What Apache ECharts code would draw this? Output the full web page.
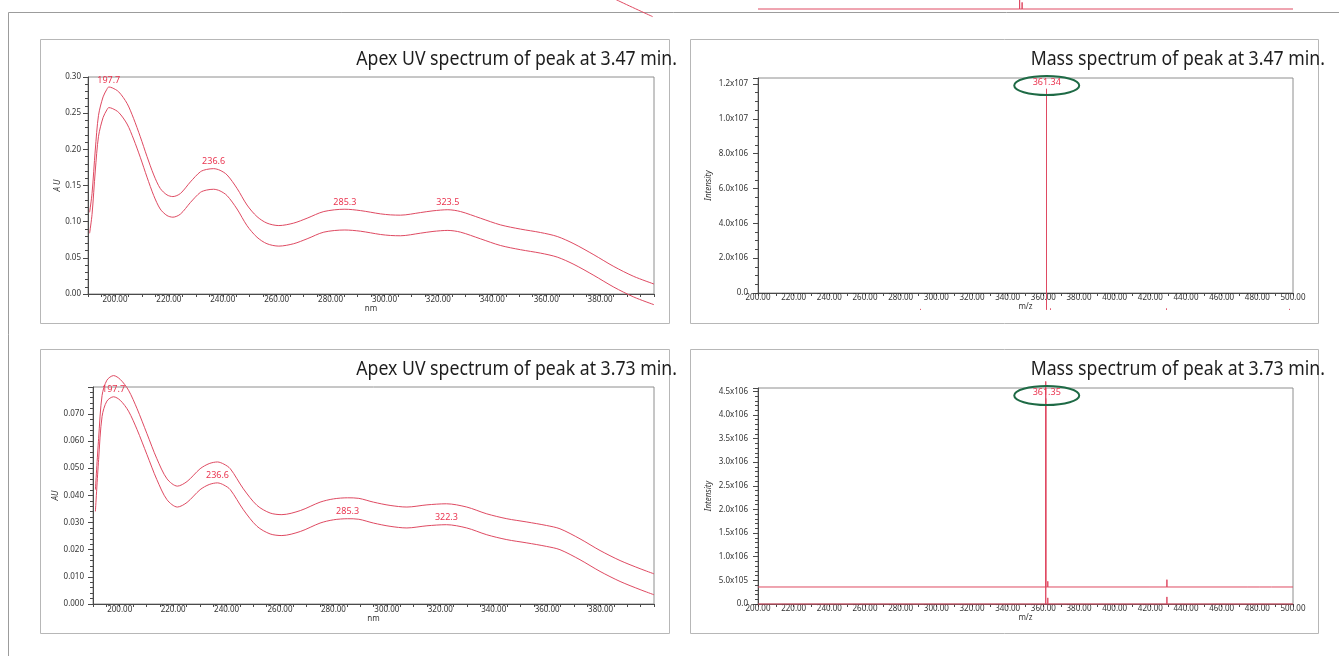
<!DOCTYPE html>
<html>
<head>
<meta charset="utf-8">
<script src="https://cdn.jsdelivr.net/npm/echarts@6/dist/echarts.min.js"></script>
<style>
  html, body { margin: 0; padding: 0; background: #fff; }
  #c { width: 1339px; height: 656px; }
</style>
</head>
<body>
<div id="c"></div>
<script>
// ---------- data ----------
// UV spectrum, peak at 3.47 min: [wavelength nm, absorbance AU]
const uvA = [[190.6,0.113],[191.5,0.139],[192.7,0.199],[193.9,0.247],[195.6,0.2725],[197.0,0.2830],[197.7,0.2862],[199.0,0.2850],[201.4,0.2795],[204.5,0.2634],[206.9,0.2428],[209.4,0.2174],[211.9,0.190],[214.4,0.1646],[216.8,0.146],[219.3,0.137],[221.5,0.1347],[224.3,0.139],[228.0,0.155],[231.7,0.169],[234.0,0.1722],[236.6,0.1733],[239.0,0.1710],[241.6,0.1646],[245.3,0.146],[249.0,0.123],[252.7,0.107],[256.4,0.098],[260.8,0.0946],[266.3,0.098],[271.3,0.1048],[277.5,0.114],[285.3,0.1172],[291.1,0.1153],[298.5,0.1108],[302.2,0.1094],[305.9,0.1090],[313.4,0.1126],[318.0,0.1150],[323.5,0.1165],[328.2,0.114],[335.6,0.1048],[343.0,0.0956],[350.5,0.0897],[357.9,0.085],[364.1,0.0795],[370.3,0.0694],[377.7,0.0542],[385.1,0.038],[392.5,0.0243],[400.0,0.0138]];
// second trace of the same spectrum, drawn beneath it
const uvAShadow = [[190.6,0.084],[191.5,0.110],[192.7,0.170],[193.9,0.218],[195.6,0.244],[197.0,0.2545],[197.7,0.2577],[199.0,0.2565],[201.4,0.251],[204.5,0.235],[206.9,0.2143],[209.4,0.189],[211.9,0.1615],[214.4,0.136],[216.8,0.1175],[219.3,0.1085],[221.5,0.1062],[224.3,0.1105],[228.0,0.1265],[231.7,0.1405],[234.0,0.1437],[236.6,0.1448],[239.0,0.1425],[241.6,0.136],[245.3,0.1175],[249.0,0.0945],[252.7,0.0785],[256.4,0.0695],[260.8,0.0662],[266.3,0.0695],[271.3,0.0763],[277.5,0.0855],[285.3,0.0885],[291.1,0.0868],[298.5,0.0823],[302.2,0.0809],[305.9,0.0805],[313.4,0.0841],[318.0,0.0865],[323.5,0.0879],[328.2,0.0855],[335.6,0.0763],[343.0,0.0671],[350.5,0.0612],[357.9,0.0565],[364.1,0.051],[370.3,0.0409],[377.7,0.0257],[385.1,0.0095],[392.5,-0.0042],[400.0,-0.0148]];
const uvAPeakNm = [197.7, 236.6, 285.3, 323.5];

// UV spectrum, peak at 3.73 min
const uvB = [[190.9,0.0341],[192.1,0.0532],[193.4,0.0691],[195.2,0.0747],[197.7,0.0763],[200.2,0.0750],[203.3,0.0710],[206.5,0.0642],[210.2,0.0550],[213.9,0.0458],[217.7,0.0384],[221.6,0.0357],[225.2,0.0374],[230.1,0.0421],[233.5,0.0440],[236.6,0.0446],[239.0,0.0438],[241.4,0.0421],[246.3,0.0347],[251.4,0.0286],[256.3,0.0258],[260.7,0.0252],[267.6,0.0267],[275.0,0.0298],[280.0,0.0310],[285.3,0.0314],[289.5,0.0312],[295.0,0.0298],[301.2,0.0286],[307.5,0.0280],[315.0,0.0288],[322.3,0.0292],[329.9,0.0280],[337.4,0.0255],[344.9,0.0237],[352.4,0.0225],[359.8,0.0212],[364.8,0.0200],[372.3,0.0163],[379.8,0.0120],[387.3,0.0083],[394.8,0.0053],[400.0,0.0034]];
const uvBShadow = [[190.9,0.0421],[192.1,0.0609],[193.4,0.0768],[195.2,0.0824],[197.7,0.0841],[200.2,0.0827],[203.3,0.0787],[206.5,0.0719],[210.2,0.0627],[213.9,0.0535],[217.7,0.0461],[221.6,0.0434],[225.2,0.0451],[230.1,0.0498],[233.5,0.0517],[236.6,0.0523],[239.0,0.0515],[241.4,0.0498],[246.3,0.0424],[251.4,0.0363],[256.3,0.0335],[260.7,0.0329],[267.6,0.0344],[275.0,0.0375],[280.0,0.0387],[285.3,0.0391],[289.5,0.0389],[295.0,0.0375],[301.2,0.0363],[307.5,0.0357],[315.0,0.0365],[322.3,0.0369],[329.9,0.0357],[337.4,0.0332],[344.9,0.0314],[352.4,0.0302],[359.8,0.0289],[364.8,0.0277],[372.3,0.0240],[379.8,0.0197],[387.3,0.0160],[394.8,0.0130],[400.0,0.0111]];
const uvBPeakNm = [197.7, 236.6, 285.3, 322.3];

// mass spectrum, peak at 3.47 min: [m/z, intensity]
const msAPeaks = [[361.34, 11730000]];
const msAShadowBase = -970000;
const msAShadowPeaks = [[291.0, 60000],[361.34, 11730000],[363.8, 90000],[429.0, 90000],[498.0, 60000]];

// mass spectrum, peak at 3.73 min
const msBPeaks = [[361.35, 4350000],[362.5, 130000],[419.8, 15000],[429.3, 150000],[474.7, 15000],[481.4, 15000]];
const msBShadowBase = 360000;
const msBShadowPeaks = [[361.35, 4350000],[362.5, 120000],[419.8, 15000],[429.3, 155000],[474.7, 15000],[481.4, 15000],[488.0, 10000]];

// lower edge of the charts above this row
const prevMsPeaks = [[346.7, 6000000],[348.1, 380000],[414.2, 80000]];
const prevUvTail = [[372.0, 0.005],[386.0, -0.0217],[399.5, -0.0451]];

// axis ticks and labels
const uvLabelNm = [200, 220, 240, 260, 280, 300, 320, 340, 360, 380];
const uvTickNm = [];
for (let v = 190; v <= 400; v += 5) uvTickNm.push(v);
const mzLabels = [200, 220, 240, 260, 280, 300, 320, 340, 360, 380, 400, 420, 440, 460, 480, 500];
const mzTicks = [];
for (let v = 200; v <= 500; v += 10) mzTicks.push(v);

const titles = [
  'Apex UV spectrum of peak at 3.47 min.',
  'Mass spectrum of peak at 3.47 min.',
  'Apex UV spectrum of peak at 3.73 min.',
  'Mass spectrum of peak at 3.73 min.'
];

// ---------- styling ----------
const FONT = '"Noto Sans", "DejaVu Sans", sans-serif';
const RED = '#df4a62';
const LABEL_RED = '#ea3550';
const GREEN = '#1e6a45';
const AXIS = '#4a4a4a';
const BORDER = '#8e8e8e';
const FRAME = '#b7b7b7';
const TXT = '#333';

function sci(v) {
  if (v === 0) return '0.0';
  const e = Math.floor(Math.log10(Math.abs(v)) + 1e-9);
  return (v / Math.pow(10, e)).toFixed(1) + 'x10' + e;
}

// stick spectrum: a baseline with a vertical line at every peak
function stickTrace(peaks, base, lo, hi) {
  const out = [[lo, base]];
  peaks.forEach(p => { out.push([p[0], base], [p[0], base + p[1]], [p[0], base]); });
  out.push([hi, base]);
  return out;
}

function sticksOnly(xi, peaks, base) {
  return {
    type: 'custom', xAxisIndex: xi, yAxisIndex: xi, data: peaks, clip: false, z: 3,
    renderItem(params, api) {
      const a = api.coord([api.value(0), base]);
      const b = api.coord([api.value(0), base + api.value(1)]);
      const x = Math.round(a[0]) + 0.5;
      return { type: 'line', shape: { x1: x, y1: a[1], x2: x, y2: b[1] }, style: { stroke: RED, lineWidth: 1 } };
    }
  };
}

const labelText = { fontSize: 8, fontFamily: FONT, color: TXT };
const nameText = { fontSize: 8, fontFamily: FONT, color: TXT, fontStyle: 'italic' };

function uvX(gi) {
  return {
    gridIndex: gi, type: 'value', min: 190, max: 400,
    axisLine: { show: true, onZero: false, lineStyle: { color: AXIS, width: 1 } },
    axisTick: { show: true, customValues: uvTickNm, length: 3, lineStyle: { color: AXIS } },
    axisLabel: Object.assign({ customValues: uvLabelNm, formatter: v => v.toFixed(2), margin: 2 }, labelText),
    splitLine: { show: false },
    name: 'nm', nameLocation: 'middle', nameGap: 10,
    nameTextStyle: { fontSize: 8, fontFamily: FONT, color: TXT }
  };
}
function msX(gi) {
  return {
    gridIndex: gi, type: 'value', min: 200, max: 500,
    axisLine: { show: true, onZero: false, lineStyle: { color: AXIS, width: 1 } },
    axisTick: { show: true, customValues: mzTicks, length: 3, lineStyle: { color: AXIS } },
    axisLabel: Object.assign({ customValues: mzLabels, formatter: v => v.toFixed(2), margin: 1 }, labelText),
    splitLine: { show: false },
    name: 'm/z', nameLocation: 'middle', nameGap: 10,
    nameTextStyle: { fontSize: 8, fontFamily: FONT, color: TXT }
  };
}
function valueY(gi, max, interval, minorSplit, fmt, margin, name, nameGap, showMax) {
  return {
    gridIndex: gi, type: 'value', min: 0, max: max, interval: interval,
    axisLine: { show: true, onZero: false, lineStyle: { color: AXIS, width: 1 } },
    axisTick: { show: true, length: 5, lineStyle: { color: AXIS } },
    minorTick: { show: true, splitNumber: minorSplit, length: 3, lineStyle: { color: AXIS } },
    axisLabel: Object.assign({ formatter: fmt, margin: margin, padding: [0, 0, 6, 0], showMaxLabel: showMax, showMinLabel: true }, labelText),
    splitLine: { show: false },
    name: name, nameLocation: 'middle', nameGap: nameGap, nameTextStyle: nameText
  };
}
function hiddenAxis(gi, min, max) {
  return { gridIndex: gi, type: 'value', min: min, max: max, show: false };
}

function peakLabels(data, nms) {
  return {
    symbol: 'circle', symbolSize: 1, itemStyle: { color: 'rgba(0,0,0,0)' },
    label: {
      show: true, position: 'top', distance: 2, color: LABEL_RED, fontSize: 9, fontFamily: FONT,
      formatter: p => p.data.coord[0].toFixed(1)
    },
    data: nms.map(nm => ({ coord: data.find(d => d[0] === nm) }))
  };
}
function uvLine(xi, data, marks) {
  const s = {
    type: 'line', xAxisIndex: xi, yAxisIndex: xi, data: data, clip: false,
    showSymbol: false, symbol: 'none', smooth: 0.3,
    lineStyle: { color: RED, width: 1 }, z: 3
  };
  if (marks) s.markPoint = marks;
  return s;
}
function traceLine(xi, data) {
  return {
    type: 'line', xAxisIndex: xi, yAxisIndex: xi, data: data, clip: false,
    showSymbol: false, symbol: 'none', lineStyle: { color: RED, width: 1 }, z: 3
  };
}

const gridStyle = { show: true, borderColor: BORDER, borderWidth: 1, backgroundColor: 'transparent', outerBoundsMode: 'none', containLabel: false };
const gridBare = { show: false, outerBoundsMode: 'none', containLabel: false };
const grids = [
  Object.assign({ left: 88, top: 77, width: 566, height: 217 }, gridStyle),
  Object.assign({ left: 758, top: 78, width: 535, height: 215 }, gridStyle),
  Object.assign({ left: 93, top: 387, width: 561, height: 217 }, gridStyle),
  Object.assign({ left: 758, top: 388, width: 535, height: 216 }, gridStyle),
  Object.assign({ left: 758, top: -206, width: 535, height: 215 }, gridBare),
  Object.assign({ left: 88, top: -233, width: 566, height: 217 }, gridBare)
];

// panel frames, outer rule and titles
const frames = [
  [40.5, 39.5, 629, 284], [690.5, 39.5, 628, 284],
  [40.5, 349.5, 629, 284], [690.5, 349.5, 628, 284]
];
const titleAnchors = [[677, 60], [1325, 60], [677, 370], [1325, 370]];

const graphic = [];
graphic.push({
  id: 'outer', type: 'polyline', silent: true, z: -1,
  shape: { points: [[8.5, 656], [8.5, 12.5], [1339, 12.5]] },
  style: { stroke: '#9c9c9c', lineWidth: 1, fill: 'none' }
});
frames.forEach((f, i) => graphic.push({
  id: 'frame' + i, type: 'rect', silent: true, z: -1,
  shape: { x: f[0], y: f[1], width: f[2], height: f[3] },
  style: { stroke: FRAME, lineWidth: 1, fill: 'none' }
}));
titles.forEach((t, i) => graphic.push({
  id: 'title' + i, type: 'text', silent: true, z: 5,
  x: titleAnchors[i][0], y: titleAnchors[i][1], scaleX: 0.93,
  style: {
    text: t, fontSize: 19, fontFamily: FONT, fill: '#1e1e1e',
    textAlign: 'right', textVerticalAlign: 'middle', align: 'right', verticalAlign: 'middle'
  }
}));

const chart = echarts.init(document.getElementById('c'), null, { renderer: 'canvas' });
chart.setOption({
  animation: false,
  backgroundColor: '#fff',
  grid: grids,
  xAxis: [uvX(0), msX(1), uvX(2), msX(3), hiddenAxis(4, 200, 500), hiddenAxis(5, 190, 400)],
  yAxis: [
    valueY(0, 0.30, 0.05, 5, v => v.toFixed(2), 7, 'A U', 25, true),
    valueY(1, 12340000, 2000000, 4, sci, 10, 'Intensity', 45, false),
    valueY(2, 0.0799, 0.01, 5, v => v.toFixed(3), 9, 'AU', 30, false),
    valueY(3, 4570000, 500000, 5, sci, 10, 'Intensity', 45, false),
    hiddenAxis(4, 0, 12340000),
    hiddenAxis(5, 0, 0.30)
  ],
  series: [
    uvLine(0, uvA, peakLabels(uvA, uvAPeakNm)),
    uvLine(0, uvAShadow),
    sticksOnly(1, msAShadowPeaks, msAShadowBase),
    sticksOnly(1, msAPeaks, 0),
    uvLine(2, uvB, peakLabels(uvB, uvBPeakNm)),
    uvLine(2, uvBShadow),
    traceLine(3, stickTrace(msBPeaks, 0, 200, 500)),
    traceLine(3, stickTrace(msBShadowPeaks, msBShadowBase, 200, 500)),
    traceLine(4, stickTrace(prevMsPeaks, 0, 200, 500)),
    uvLine(5, prevUvTail)
  ],
  graphic: graphic
});

// highlighted base peak of each mass spectrum: ellipse and m/z label near the top of the plot
const ringed = [[1, msAPeaks[0][0], 12340000], [3, msBPeaks[0][0], 4570000]];
const extra = [];
ringed.forEach((r, i) => {
  const x = chart.convertToPixel({ xAxisIndex: r[0] }, r[1]);
  const top = chart.convertToPixel({ yAxisIndex: r[0] }, r[2]);
  extra.push({
    id: 'ring' + i, type: 'ellipse', silent: true, z: 6,
    shape: { cx: x + 1, cy: top + 7.5, rx: 32.5, ry: 9.5 },
    style: { fill: 'none', stroke: GREEN, lineWidth: 2 }
  });
  extra.push({
    id: 'ringLabel' + i, type: 'text', silent: true, z: 7,
    x: x + 1, y: top + 4.5,
    style: {
      text: r[1].toFixed(2), fontSize: 9, fontFamily: FONT, fill: LABEL_RED,
      textAlign: 'center', textVerticalAlign: 'middle', align: 'center', verticalAlign: 'middle'
    }
  });
});
chart.setOption({ graphic: extra });
</script>
</body>
</html>
